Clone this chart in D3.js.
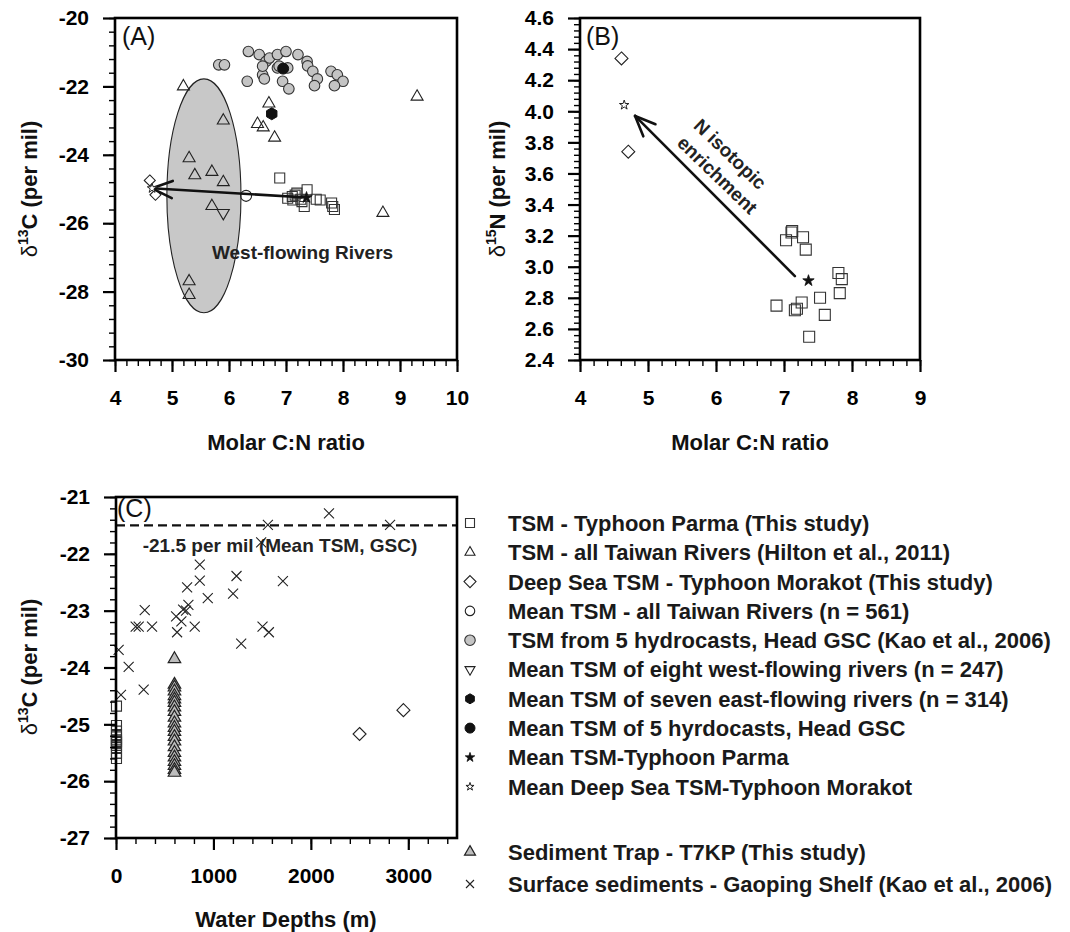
<!DOCTYPE html>
<html><head><meta charset="utf-8">
<script src="https://cdn.jsdelivr.net/npm/d3@7"></script>
<style>
body{margin:0;background:#fff;}
svg{display:block;font-family:"Liberation Sans",Arial,Helvetica,sans-serif;}
</style></head><body>
<svg id="chart" width="1070" height="932"></svg>
<script>
// ---------------- DATA ----------------
// Tick labels
const aXTicks = [4,5,6,7,8,9,10];
const aYTicks = [-30,-28,-26,-24,-22,-20];
const bXTicks = [4,5,6,7,8,9];
const bYTicks = [2.4,2.6,2.8,3.0,3.2,3.4,3.6,3.8,4.0,4.2,4.4,4.6];
const cXTicks = [0,1000,2000,3000];
const cYTicks = [-27,-26,-25,-24,-23,-22,-21];

// TSM - Typhoon Parma (This study)
const parmaCN    = [6.89,7.03,7.11,7.12,7.16,7.19,7.26,7.28,7.32,7.37,7.53,7.60,7.80,7.82,7.85];
const parmaD13C  = [-24.68,-25.27,-25.22,-25.32,-25.18,-25.12,-25.30,-25.37,-25.51,-25.02,-25.30,-25.32,-25.41,-25.51,-25.60];
const parmaD15N  = [2.75,3.17,3.22,3.23,2.72,2.73,2.77,3.19,3.11,2.55,2.80,2.69,2.96,2.83,2.92];
const parmaDepth = [5,5,5,5,5,5,5,5,5,5,5,5,5,5,5];

// TSM - all Taiwan Rivers (Hilton et al., 2011)
const hiltonCN   = [5.2,9.3,6.7,5.9,6.5,6.6,6.8,5.3,5.4,5.7,5.9,5.7,8.7,5.3,5.3];
const hiltonD13C = [-22.0,-22.3,-22.5,-23.0,-23.1,-23.2,-23.5,-24.1,-24.6,-24.5,-24.8,-25.5,-25.7,-27.7,-28.1];

// Deep Sea TSM - Typhoon Morakot (This study)
const morakotCN    = [4.61,4.71];
const morakotD13C  = [-24.75,-25.17];
const morakotD15N  = [4.34,3.74];
const morakotDepth = [2950,2500];

// TSM from 5 hydrocasts, Head GSC (Kao et al., 2006)
const kaoCN   = [6.34,6.53,6.65,6.71,6.85,7.00,7.21,7.37,7.38,7.47,7.55,7.50,7.79,7.90,8.00,7.85,5.82,5.92,6.32,6.59,6.62,6.59,6.85,6.94,7.05,6.88,7.03];
const kaoD13C = [-20.98,-21.07,-21.27,-21.17,-21.07,-20.98,-21.07,-21.27,-21.40,-21.56,-21.78,-21.98,-21.56,-21.66,-21.85,-21.98,-21.37,-21.37,-21.85,-21.66,-21.78,-21.41,-21.46,-21.85,-22.07,-21.41,-21.46];

// Means
const meanRiversCN = [6.3],  meanRiversD13C = [-25.2];     // Mean TSM - all Taiwan Rivers
const meanWestCN   = [5.9],  meanWestD13C   = [-25.7];     // eight west-flowing rivers
const meanEastCN   = [6.75], meanEastD13C   = [-22.8];     // seven east-flowing rivers
const meanHydroCN  = [6.95], meanHydroD13C  = [-21.48];    // 5 hydrocasts
const meanParmaCN  = [7.36], meanParmaD13C  = [-25.25], meanParmaD15N = [2.91];
const meanMorakotCN= [4.65], meanMorakotD13C= [-24.98], meanMorakotD15N = [4.04];

// Sediment Trap - T7KP (This study)
const trapDepth = [600,600,600,600,600,600,600,600,600,600,600,600,600,600,600,600,600,600,600,600,600,600];
const trapD13C  = [-23.85,-24.30,-24.35,-24.42,-24.50,-24.56,-24.62,-24.70,-24.78,-24.88,-24.98,-25.06,-25.13,-25.22,-25.30,-25.40,-25.50,-25.58,-25.66,-25.73,-25.80,-25.85];

// Surface sediments - Gaoping Shelf (Kao et al., 2006)
const sedDepth = [2186,1559,2813,1490,860,860,1237,1713,1202,730,942,743,295,689,719,617,671,202,233,370,808,627,1504,1569,1285,27,130,51,284,600];
const sedD13C  = [-21.29,-21.49,-21.49,-21.80,-22.19,-22.47,-22.39,-22.48,-22.70,-22.59,-22.78,-22.90,-22.99,-22.98,-23.00,-23.10,-23.19,-23.28,-23.28,-23.28,-23.28,-23.38,-23.28,-23.38,-23.58,-23.69,-23.99,-24.48,-24.39,-24.55];

// Annotations (data units)
const westEllipse = [5.56,-25.2,0.65,3.42];   // cx, cy, rx, ry
const gscMeanD13C = -21.5;
const arrowBCN = [7.16,4.81], arrowBD15N = [2.94,3.97];
const noteWest = ["West-flowing Rivers", 7.29, -26.86];
const noteGSC  = ["-21.5 per mil (Mean TSM, GSC)", 1683, -21.857];
const noteN    = [["N isotopic", 6.21, 3.725], ["enrichment", 6.02, 3.59]];

const legendLabels = [
  "TSM - Typhoon Parma (This study)",
  "TSM - all Taiwan Rivers (Hilton et al., 2011)",
  "Deep Sea TSM - Typhoon Morakot (This study)",
  "Mean TSM -  all Taiwan Rivers (n = 561)",
  "TSM from 5 hydrocasts, Head GSC (Kao et al., 2006)",
  "Mean TSM of eight west-flowing rivers (n = 247)",
  "Mean TSM of seven east-flowing rivers (n = 314)",
  "Mean TSM of 5 hyrdocasts, Head GSC",
  "Mean TSM-Typhoon Parma",
  "Mean Deep Sea TSM-Typhoon Morakot",
  "Sediment Trap - T7KP (This study)",
  "Surface sediments - Gaoping Shelf (Kao et al., 2006)"
];

// ---------------- DRAWING ----------------
const svg = d3.select("#chart");
const xA = d3.scaleLinear([4,10],[115,457]);
const yA = d3.scaleLinear([-30,-20],[360,18]);
const xB = d3.scaleLinear([4,9],[580,920]);
const yB = d3.scaleLinear([2.4,4.6],[360,18]);
const xC = d3.scaleLinear([0,3500],[116,457]);
const yC = d3.scaleLinear([-27,-21],[838,497]);

// shape paths
function shape(type, s){
  if(type==="square"){const h=s/2;return `M${-h},${-h}h${s}v${s}h${-s}Z`;}
  if(type==="tri"){const h=s*0.866;return `M0,${-2*h/3}L${s/2},${h/3}L${-s/2},${h/3}Z`;}
  if(type==="triDown"){const h=s*0.866;return `M0,${2*h/3}L${s/2},${-h/3}L${-s/2},${-h/3}Z`;}
  if(type==="diamond"){const d=s/2;return `M0,${-d}L${d},0L0,${d}L${-d},0Z`;}
  if(type==="circle"){const r=s/2;return `M${r},0A${r},${r},0,1,1,${-r},0A${r},${r},0,1,1,${r},0Z`;}
  if(type==="hex"){const r=s/2;let p="";for(let k=0;k<6;k++){const a=(-90+60*k)*Math.PI/180;p+=(k?"L":"M")+(r*Math.cos(a)).toFixed(2)+","+(r*Math.sin(a)).toFixed(2);}return p+"Z";}
  if(type==="star"){const R=s/2;return d3.symbol(d3.symbolStar, R*R/0.8908130915292852)();}
  if(type==="cross"){const h=s/2;return `M${-h},${-h}L${h},${h}M${-h},${h}L${h},${-h}`;}
}
const styles = {
  square:{type:"square",fill:"none",stroke:"#333",sw:1.1},
  tri:{type:"tri",fill:"none",stroke:"#222",sw:1.1},
  diamond:{type:"diamond",fill:"none",stroke:"#222",sw:1.1},
  circle:{type:"circle",fill:"none",stroke:"#222",sw:1.1},
  grayCircle:{type:"circle",fill:"#c4c4c4",stroke:"#333",sw:1.1},
  triDown:{type:"triDown",fill:"none",stroke:"#222",sw:1.1},
  hex:{type:"hex",fill:"#111",stroke:"#111",sw:1},
  blackCircle:{type:"circle",fill:"#111",stroke:"#111",sw:1},
  star:{type:"star",fill:"#111",stroke:"#111",sw:0.8},
  openStar:{type:"star",fill:"#fff",stroke:"#222",sw:1},
  grayTri:{type:"tri",fill:"#bdbdbd",stroke:"#222",sw:1.2},
  cross:{type:"cross",fill:"none",stroke:"#222",sw:1.1}
};
function marks(xs, ys, xScale, yScale, st, size){
  const pts = xs.map((v,i)=>[v,ys[i]]);
  svg.append("g").selectAll("path").data(pts).join("path")
    .attr("transform",d=>`translate(${xScale(d[0])},${yScale(d[1])})`)
    .attr("d",shape(st.type,size))
    .attr("fill",st.fill).attr("stroke",st.stroke).attr("stroke-width",st.sw);
}
function arrow(x1,y1,x2,y2){
  const g = svg.append("g").attr("stroke","#111").attr("stroke-width",2.6).attr("fill","none").attr("stroke-linecap","round");
  g.append("line").attr("x1",x1).attr("y1",y1).attr("x2",x2).attr("y2",y2);
  const ang = Math.atan2(y1-y2,x1-x2), L=22, da=23*Math.PI/180;
  [ang-da, ang+da].forEach(a=>g.append("line").attr("x1",x2).attr("y1",y2)
    .attr("x2",x2+L*Math.cos(a)).attr("y2",y2+L*Math.sin(a)));
}
function axes(x, y, xt, yt, xMinor, yMinor, xFmt, yFmt){
  const [x0,x1]=x.range(), [y0,y1]=y.range();
  const style = g=>{g.attr("font-size",null).attr("font-family",null);g.select(".domain").remove();
    g.selectAll("line").attr("stroke","#000");
    g.selectAll("text").attr("fill","#000").style("font-size","21px").style("font-weight","bold");};
  svg.append("g").attr("transform",`translate(0,${y0})`)
    .call(d3.axisBottom(x).tickValues(xMinor).tickSize(6).tickFormat("")).call(style)
    .selectAll("line").attr("stroke-width",1.4);
  svg.append("g").attr("transform",`translate(0,${y0})`)
    .call(d3.axisBottom(x).tickValues(xt).tickSize(12).tickPadding(18).tickFormat(xFmt)).call(style)
    .selectAll("line").attr("stroke-width",2.2);
  svg.append("g").attr("transform",`translate(${x0},0)`)
    .call(d3.axisLeft(y).tickValues(yMinor).tickSize(6).tickFormat("")).call(style)
    .selectAll("line").attr("stroke-width",1.4);
  svg.append("g").attr("transform",`translate(${x0},0)`)
    .call(d3.axisLeft(y).tickValues(yt).tickSize(12).tickPadding(14).tickFormat(yFmt)).call(style)
    .selectAll("line").attr("stroke-width",2.2);
  svg.append("rect").attr("x",x0).attr("y",y1).attr("width",x1-x0).attr("height",y0-y1)
    .attr("fill","none").attr("stroke","#000").attr("stroke-width",2.6);
}
function yTitle(x, y, iso, el){
  const t = svg.append("text").attr("transform",`translate(${x},${y}) rotate(-90)`)
    .attr("text-anchor","middle").style("font-size","22px").attr("fill","#111");
  t.append("tspan").text("δ").style("font-weight","normal");
  t.append("tspan").text(iso).style("font-size","14px").style("font-weight","bold").attr("dy",-9);
  t.append("tspan").text(el+" (per mil)").style("font-weight","bold").attr("dy",9);
}
function xTitle(x, y, txt){
  svg.append("text").attr("x",x).attr("y",y).attr("text-anchor","middle")
    .style("font-size","22px").style("font-weight","bold").attr("fill","#111").text(txt);
}
function panelLabel(x,y,txt){
  svg.append("text").attr("x",x).attr("y",y).style("font-size","25px").attr("fill","#111").text(txt);
}
const fmtInt = d=>String(d), fmt1 = d=>d.toFixed(1);

// ---- Panel A ----
svg.append("ellipse")
  .attr("cx",xA(westEllipse[0])).attr("cy",yA(westEllipse[1]))
  .attr("rx",xA(westEllipse[0]+westEllipse[2])-xA(westEllipse[0]))
  .attr("ry",yA(westEllipse[1])-yA(westEllipse[1]+westEllipse[3]))
  .attr("fill","#c8c8c8").attr("stroke","#222").attr("stroke-width",1.1);
svg.append("text").attr("x",xA(noteWest[1])).attr("y",yA(noteWest[2])).attr("dy","0.35em")
  .attr("text-anchor","middle").style("font-size","19px").style("font-weight","bold").attr("fill","#222").text(noteWest[0]);
marks(hiltonCN, hiltonD13C, xA, yA, styles.tri, 12);
marks(meanRiversCN, meanRiversD13C, xA, yA, styles.circle, 11);
marks(meanWestCN, meanWestD13C, xA, yA, styles.triDown, 12);
marks(kaoCN, kaoD13C, xA, yA, styles.grayCircle, 10.6);
marks(meanHydroCN, meanHydroD13C, xA, yA, styles.blackCircle, 11);
marks(meanEastCN, meanEastD13C, xA, yA, styles.hex, 12);
marks(parmaCN, parmaD13C, xA, yA, styles.square, 10);
marks(morakotCN, morakotD13C, xA, yA, styles.diamond, 11);
arrow(xA(meanParmaCN[0]), yA(meanParmaD13C[0]), xA(meanMorakotCN[0]), yA(meanMorakotD13C[0]));
marks(meanParmaCN, meanParmaD13C, xA, yA, styles.star, 12);
marks(meanMorakotCN, meanMorakotD13C, xA, yA, styles.openStar, 10);
axes(xA, yA, aXTicks, aYTicks, d3.range(4,10.001,0.2), d3.range(-30,-19.999,0.4), fmtInt, fmtInt);
panelLabel(122,45,"(A)");
yTitle(37,189,"13","C");
xTitle(286,450,"Molar C:N ratio");

// ---- Panel B ----
marks(parmaCN, parmaD15N, xB, yB, styles.square, 11);
marks(morakotCN, morakotD15N, xB, yB, styles.diamond, 13);
arrow(xB(arrowBCN[0]), yB(arrowBD15N[0]), xB(arrowBCN[1]), yB(arrowBD15N[1]));
marks(meanParmaCN, meanParmaD15N, xB, yB, styles.star, 12);
marks(meanMorakotCN, meanMorakotD15N, xB, yB, styles.openStar, 10);
noteN.forEach(n=>{
  svg.append("text").attr("transform",`translate(${xB(n[1])},${yB(n[2])}) rotate(44)`)
    .attr("text-anchor","middle").attr("dy","0.35em")
    .style("font-size","19px").style("font-weight","bold").attr("fill","#222").text(n[0]);
});
axes(xB, yB, bXTicks, bYTicks, d3.range(4,9.001,0.2), d3.range(2.4,4.6001,0.04), fmtInt, fmt1);
panelLabel(586,45,"(B)");
yTitle(505,189,"15","N");
xTitle(750,450,"Molar C:N ratio");

// ---- Panel C ----
svg.append("line").attr("x1",xC(0)).attr("x2",xC(3500)).attr("y1",yC(gscMeanD13C)).attr("y2",yC(gscMeanD13C))
  .attr("stroke","#111").attr("stroke-width",2.4).attr("stroke-dasharray","9,5");
svg.append("text").attr("x",xC(noteGSC[1])).attr("y",yC(noteGSC[2])).attr("dy","0.35em")
  .attr("text-anchor","middle").style("font-size","19px").style("font-weight","bold").attr("fill","#222").text(noteGSC[0]);
marks(sedDepth, sedD13C, xC, yC, styles.cross, 10);
marks(trapDepth, trapD13C, xC, yC, styles.grayTri, 12.5);
marks(parmaDepth, parmaD13C, xC, yC, styles.square, 10);
marks(morakotDepth, morakotD13C, xC, yC, styles.diamond, 13);
axes(xC, yC, cXTicks, cYTicks, d3.range(0,3500.1,200), d3.range(-27,-20.999,0.2), fmtInt, fmtInt);
panelLabel(117,517,"(C)");
yTitle(37,667,"13","C");
xTitle(286,927,"Water Depths (m)");

// ---- Legend ----
const legendStyle = [["square",9],["tri",10],["diamond",12],["circle",9.5],["grayCircle",10.5],["triDown",10],
  ["hex",10],["blackCircle",10],["star",10],["openStar",8.5],["grayTri",11],["cross",8]];
const legendY = [523,552.3,581.6,610.9,640.2,669.5,698.8,728.1,757.4,786.7,852,884];
const lg = svg.append("g");
legendLabels.forEach((lab,i)=>{
  const st = styles[legendStyle[i][0]];
  lg.append("path").attr("transform",`translate(470,${legendY[i]})`).attr("d",shape(st.type,legendStyle[i][1]))
    .attr("fill",st.fill).attr("stroke",st.stroke).attr("stroke-width",st.sw);
  lg.append("text").attr("x",508).attr("y",legendY[i]).attr("dy","0.36em")
    .style("font-size","22px").style("font-weight","bold").attr("fill","#1a1a1a").text(lab);
});
</script></body></html>
